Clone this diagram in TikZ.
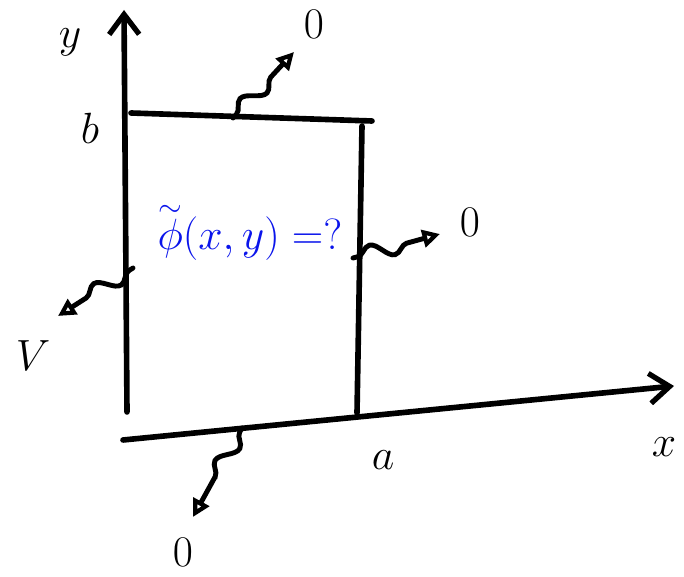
\documentclass[tikz,border=0pt]{standalone}
\usepackage{xcolor}
\usepackage{tikz}
\usetikzlibrary{arrows.meta,decorations.pathmorphing}
\definecolor{ink}{RGB}{0,0,0}
\definecolor{pen}{RGB}{10,20,235}
\tikzset{
  edge/.style={draw=ink, line width=3.2pt, line cap=round},
  axis/.style={edge, -{Straight Barb[length=4mm,width=6mm,line width=3pt]}},
  bc/.style={draw=ink, line width=2.8pt, line cap=round,
    -{Triangle[open,length=3.5mm,width=3.5mm,line width=2.4pt]},
    decorate, decoration={snake, amplitude=1.6mm, segment length=9mm,
      pre length=1mm, post length=6mm}},
  lbl/.style={text=ink, font=\fontsize{30}{34}\selectfont, inner sep=1pt},
  % gesuchte Funktion
  guess/.style={text=pen, font=\fontsize{24}{28}\selectfont, inner sep=1pt}
}
\begin{document}
\begin{tikzpicture}[x=0.02cm, y=-0.02cm]
  \useasboundingbox (0,0) rectangle (684,577);
  % Achsen
  \coordinate (yfoot) at (127,412);
  \coordinate (ytip) at (124,10);
  \coordinate (xfoot) at (123,440);
  \coordinate (xtip) at (674,386);
  \draw[axis] (yfoot) -- (ytip);
  \draw[axis] (xfoot) -- (xtip);
  % Rechteck
  \coordinate (tl) at (131,113);
  \coordinate (tr) at (372,121);
  \coordinate (rtop) at (362,126);
  \coordinate (rbot) at (357,413);
  \draw[edge] (tl) -- (tr);
  \draw[edge] (rtop) -- (rbot);

  \node[lbl] (ylab) at (70,42) {$y$};
  \node[lbl] (blab) at (90,128) {$b$};
  \node[lbl] (alab) at (383,460) {$a$};
  \node[lbl] (xlab) at (664,447) {$x$};
  \node[guess] (phi) at (250,232) {$\mathord{\stackrel{\sim}{\phi}}(x,y)=?$};

  % Randwerte
  \node[lbl] (vtop) at (314,24) {$0$};
  \node[lbl] (vright) at (470,222) {$0$};
  \node[lbl] (vleft) at (33,356) {$V$};
  \node[lbl] (vbot) at (183,552) {$0$};
  \coordinate (ptop) at (233,118);
  \coordinate (pright) at (353,258);
  \coordinate (pleft) at (133,268);
  \coordinate (pbot) at (242,428);
  \coordinate (etop) at (294,52);
  \coordinate (eright) at (440,234);
  \coordinate (eleft) at (58,316);
  \coordinate (ebot) at (193,517);
  \draw[bc] (ptop) -- (etop);
  \draw[bc] (pright) -- (eright);
  \draw[bc] (pleft) -- (eleft);
  \draw[bc] (pbot) -- (ebot);
\end{tikzpicture}
\end{document}
